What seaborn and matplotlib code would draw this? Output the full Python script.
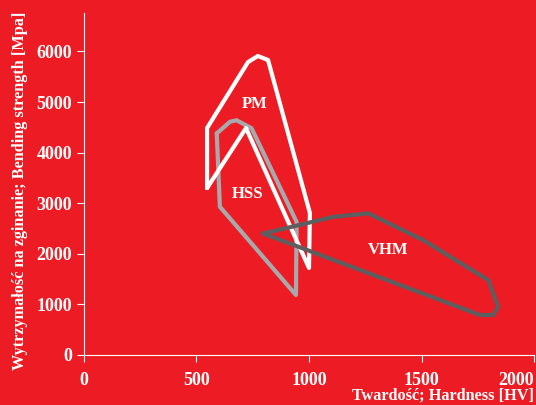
import numpy as np
import pandas as pd
import seaborn as sns
import matplotlib.pyplot as plt

# outlines (hardness HV, bending strength MPa)
pm_x = [547, 547, 729, 773, 818, 1004, 1000, 720, 547]
pm_y = [3300, 4486, 5790, 5910, 5830, 2806, 1720, 4486, 3300]

hss_x = [590, 649, 678, 745, 945, 942, 604, 590]
hss_y = [4380, 4610, 4640, 4480, 2630, 1186, 2930, 4380]

vhm_x = [797, 1108, 1264, 1508, 1797, 1841, 1819, 1760, 797]
vhm_y = [2400, 2730, 2800, 2270, 1480, 955, 790, 790, 2400]

labels = ['PM', 'HSS', 'VHM']
label_x = [760, 726, 1350]
label_y = [4960, 3180, 2075]

x_ticks = [0, 500, 1000, 1500, 2000]
y_ticks = [0, 1000, 2000, 3000, 4000, 5000, 6000]

red = '#ED1C24'
sns.set_style('ticks')
plt.rcParams['font.family'] = ['Liberation Serif', 'DejaVu Serif']
plt.rcParams['font.weight'] = 'bold'

fig = plt.figure(figsize=(5.36, 4.05), dpi=100, facecolor=red)
ax = fig.add_axes([0.1567, 0.1235, 0.8396, 0.8444])
ax.set_facecolor(red)

sns.lineplot(x=hss_x, y=hss_y, sort=False, estimator=None, color='#A7A9AC',
             lw=3.0, solid_joinstyle='round', ax=ax)
sns.lineplot(x=pm_x, y=pm_y, sort=False, estimator=None, color='white',
             lw=3.0, solid_joinstyle='round', ax=ax)
sns.lineplot(x=vhm_x, y=vhm_y, sort=False, estimator=None, color='#5D5E60',
             lw=3.0, solid_joinstyle='round', ax=ax)

for t, tx, ty in zip(labels, label_x, label_y):
    ax.text(tx, ty, t, color='white', fontsize=12, fontweight='bold',
            ha='center', va='center')

ax.set_xlim(0, 2000)
ax.set_ylim(0, 6760)
ax.set_xticks(x_ticks)
ax.set_yticks(y_ticks)
for s in ['top', 'right']:
    ax.spines[s].set_visible(False)
for s in ['left', 'bottom']:
    ax.spines[s].set_color('white')
    ax.spines[s].set_linewidth(0.8)
ax.tick_params(axis='x', colors='white', labelsize=13, length=5, width=0.8, pad=7)
ax.tick_params(axis='y', colors='white', labelsize=13, length=5, width=0.8, pad=3.5)
for lab in ax.get_xticklabels() + ax.get_yticklabels():
    lab.set_fontweight('bold')
ax.get_xticklabels()[-1].set_horizontalalignment('right')

fig.text(0.996, 0.003, 'Twardość; Hardness [HV]', color='white', fontsize=11.7,
         fontweight='bold', ha='right', va='bottom')
fig.text(0.022, 0.528, 'Wytrzymałość na zginanie; Bending strength [Mpa]',
         color='white', fontsize=11.7, fontweight='bold', rotation=90,
         ha='left', va='center')

fig.savefig('out.png', dpi=100, facecolor=red)
